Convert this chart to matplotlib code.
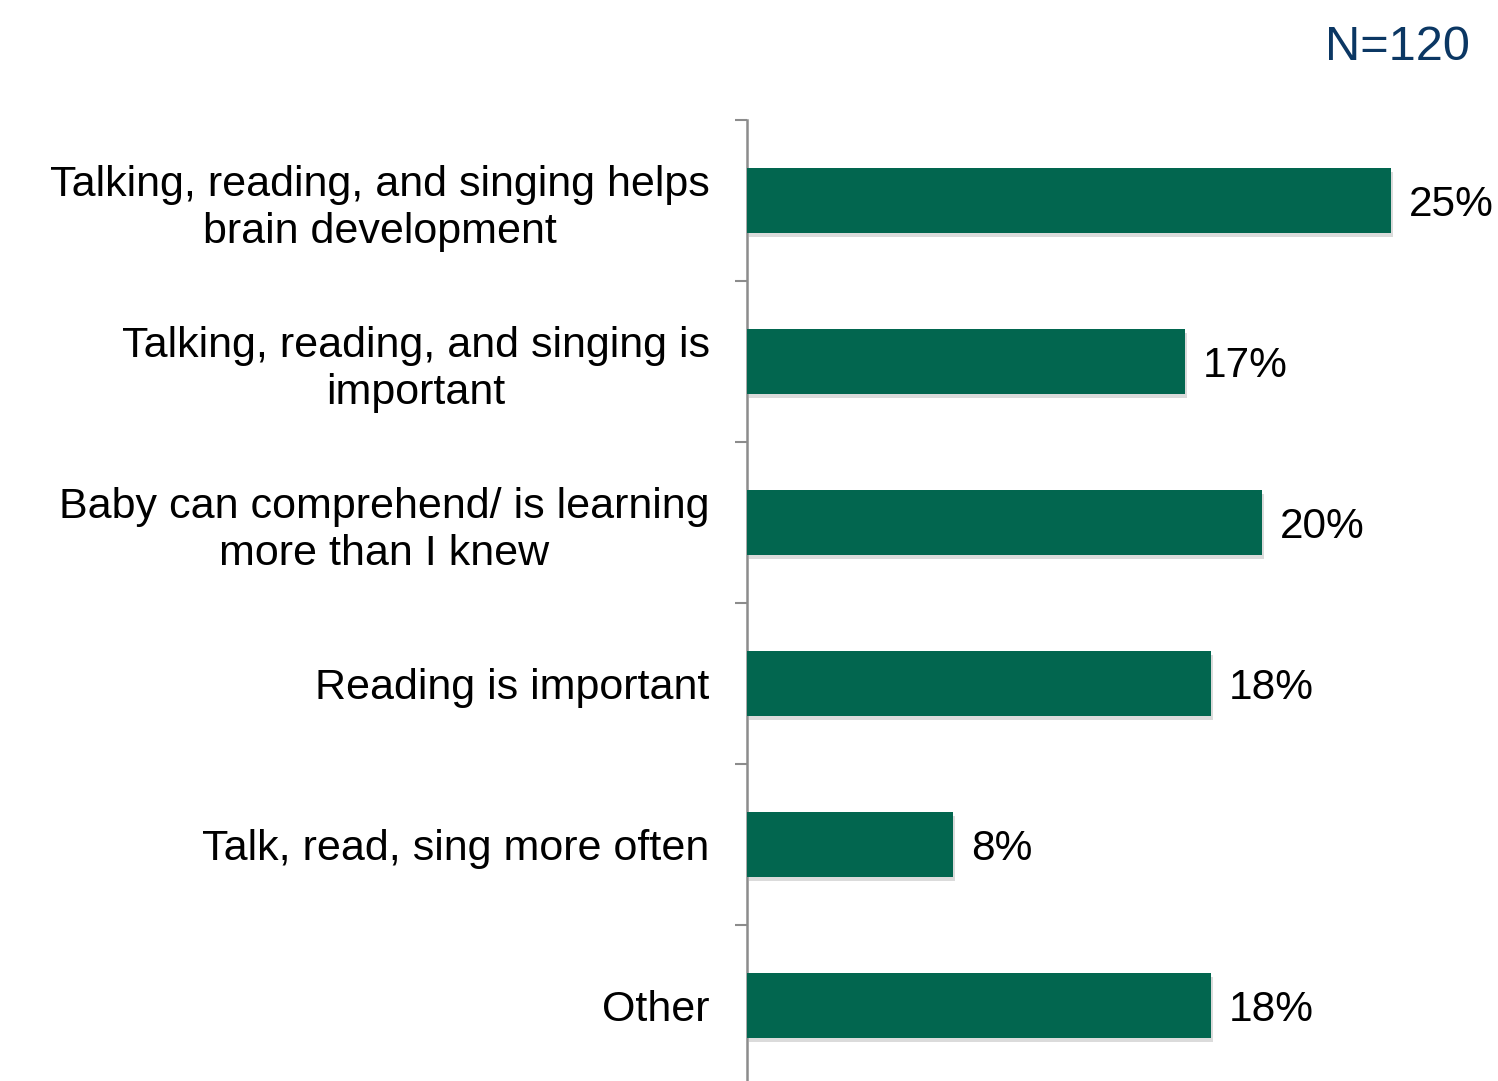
import matplotlib.pyplot as plt
import matplotlib.patheffects as pe
import numpy as np

plt.rcParams['font.family'] = ['Liberation Sans', 'DejaVu Sans']

# data
categories = [
    'Talking, reading, and singing helps\nbrain development',
    'Talking, reading, and singing is\nimportant',
    'Baby can comprehend/ is learning\nmore than I knew',
    'Reading is important',
    'Talk, read, sing more often',
    'Other',
]
values = [25, 17, 20, 18, 8, 18]
n_label = 'N=120'

bar_color = '#02664F'
axis_color = '#8C8C8C'

fig = plt.figure(figsize=(14.98, 10.81), dpi=100)
W, H = 1498, 1081
# axes placed in pixel terms: y axis at x=747, top at y=120, 161 px per category
ax = fig.add_axes([747 / W, 1 - 1086 / H, (W - 747) / W, 966 / H])

y = np.arange(len(categories))
bars = ax.barh(y, values, height=0.40, color=bar_color, zorder=3)
for b in bars:
    b.set_path_effects([pe.SimplePatchShadow(offset=(1.5, -3), shadow_rgbFace='#888888', alpha=0.3),
                        pe.Normal()])

ax.set_xlim(0, (W - 747) / 25.76)
ax.set_ylim(len(categories) - 0.5, -0.5)

# value labels
for yi, v in zip(y, values):
    ax.text(v + 0.7, yi + 0.025, f'{v}%', va='center', ha='left', fontsize=30.5, color='black')

# boundary ticks and centered labels
ax.set_yticks(np.arange(-0.5, len(categories), 1.0))
ax.set_yticklabels([])
ax.set_yticks(y, minor=True)
ax.set_yticklabels(categories, minor=True, fontsize=31, multialignment='center', linespacing=1.22)
ax.tick_params(axis='y', which='major', length=9, width=1.5, color=axis_color)
ax.tick_params(axis='y', which='minor', length=0, pad=27)
ax.set_xticks([])

for s in ['top', 'right', 'bottom']:
    ax.spines[s].set_visible(False)
ax.spines['left'].set_color(axis_color)
ax.spines['left'].set_linewidth(1.8)

fig.text(1470 / W, 1 - 47 / H, n_label, ha='right', va='center', fontsize=35, color='#0B3763')

plt.savefig('out.png', dpi=100)
